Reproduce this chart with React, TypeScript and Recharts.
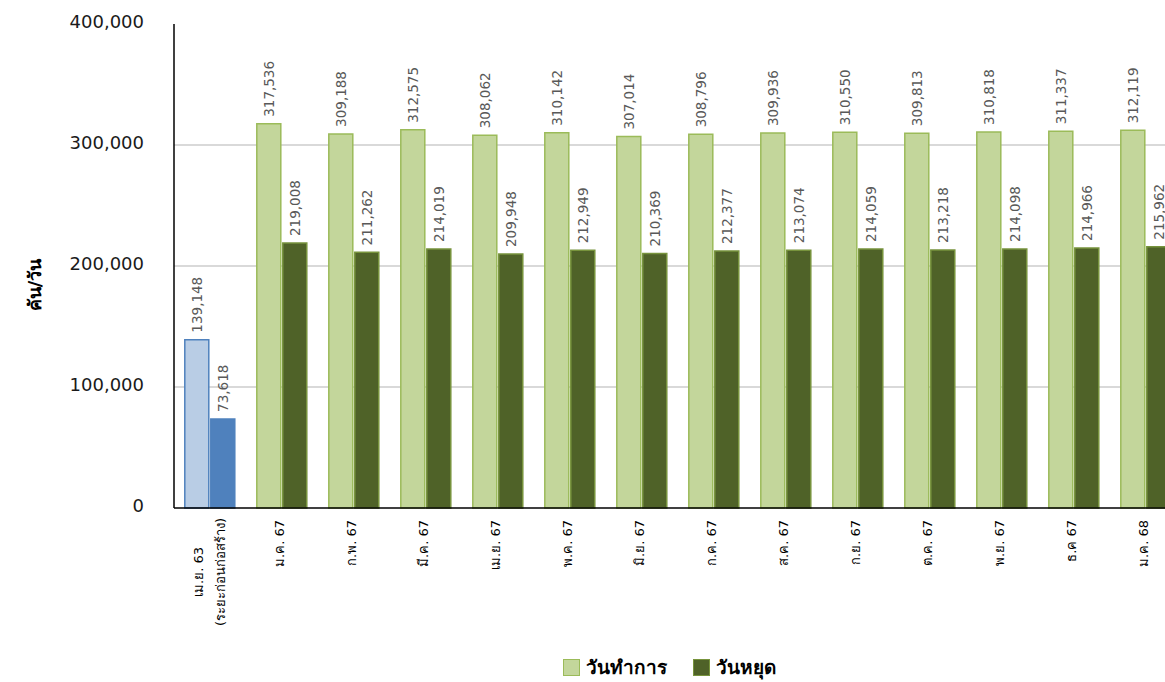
import { Bar, BarChart, CartesianGrid, Cell, LabelList, Legend, XAxis, YAxis } from "recharts";

// เดือน (แกน X)
const months = [
  "เม.ย. 63\n(ระยะก่อนก่อสร้าง)",
  "ม.ค. 67",
  "ก.พ. 67",
  "มี.ค. 67",
  "เม.ย. 67",
  "พ.ค. 67",
  "มิ.ย. 67",
  "ก.ค. 67",
  "ส.ค. 67",
  "ก.ย. 67",
  "ต.ค. 67",
  "พ.ย. 67",
  "ธ.ค 67",
  "ม.ค. 68",
];

// คัน/วัน
const workdays = [139148, 317536, 309188, 312575, 308062, 310142, 307014, 308796, 309936, 310550, 309813, 310818, 311337, 312119];
const holidays = [73618, 219008, 211262, 214019, 209948, 212949, 210369, 212377, 213074, 214059, 213218, 214098, 214966, 215962];

const yTicks = [0, 100000, 200000, 300000, 400000];

const FONT = "'DejaVu Sans', Tahoma, Verdana, sans-serif";

const data = months.map((m, i) => ({ month: m, workday: workdays[i], holiday: holidays[i] }));

const fmt = (v: number) => v.toLocaleString("en-US");

function XTick(props: any) {
  const { x, y, payload } = props;
  const lines: string[] = String(payload.value).split("\n");
  if (lines.length === 1) {
    const ty = y + 12;
    return (
      <text x={x - 3} y={ty} transform={`rotate(-90 ${x - 3} ${ty})`} textAnchor="end" dy="0.35em" fontSize={13} fill="#000" fontFamily={FONT}>
        {lines[0]}
      </text>
    );
  }
  const cy = y + 64;
  return (
    <g>
      {lines.map((l, i) => {
        const lx = x - 12 + i * 22;
        return (
          <text key={i} x={lx} y={cy} transform={`rotate(-90 ${lx} ${cy})`} textAnchor="middle" dy="0.35em" fontSize={13} fill="#000" fontFamily={FONT}>
            {l}
          </text>
        );
      })}
    </g>
  );
}

function ValueLabel(props: any) {
  const { x, y, width, value } = props;
  const cx = x + width / 2;
  const ty = y - 7;
  return (
    <text x={cx} y={ty} transform={`rotate(-90 ${cx} ${ty})`} textAnchor="start" dy="0.35em" fontSize={13.5} fill="#595959" fontFamily={FONT}>
      {fmt(value)}
    </text>
  );
}

function LegendBox() {
  const item = (fill: string, stroke: string, text: string) => (
    <div style={{ display: "flex", alignItems: "center", marginRight: 26 }}>
      <span style={{ width: 15, height: 15, background: fill, border: `1.5px solid ${stroke}`, marginRight: 6 }} />
      <span style={{ fontSize: 19, fontWeight: "bold", color: "#000", fontFamily: FONT }}>{text}</span>
    </div>
  );
  return (
    <div style={{ display: "flex" }}>
      {item("#c3d69b", "#9bbb59", "วันทำการ")}
      {item("#4f6228", "#77933c", "วันหยุด")}
    </div>
  );
}

export default function App() {
  return (
    <div style={{ position: "absolute", left: 0, top: 0, width: 1165, height: 682, overflow: "hidden" }}>
      <div style={{ paddingLeft: 8, paddingTop: 8 }}>
        <BarChart
          width={1174}
          height={674}
          data={data}
          margin={{ top: 16, right: 0, left: 0, bottom: 0 }}
          barCategoryGap="15%"
          barGap={2}
        >
          <CartesianGrid vertical={false} stroke="#b3b3b3" horizontalValues={[100000, 200000, 300000]} />
          <XAxis
            dataKey="month"
            height={174}
            interval={0}
            tick={<XTick />}
            tickLine={false}
            tickSize={0}
            tickMargin={0}
            axisLine={{ stroke: "#000", strokeWidth: 1.5 }}
          />
          <YAxis
            width={166}
            domain={[0, 400000]}
            ticks={yTicks}
            tickFormatter={fmt}
            tickLine={false}
            tickSize={0}
            tickMargin={30}
            axisLine={{ stroke: "#000", strokeWidth: 1.5 }}
            tick={{ fontSize: 18, fill: "#1a1a1a", fontFamily: FONT, dy: -2 }}
            label={{
              content: () => (
                <text x={27} y={277} transform="rotate(-90 27 277)" textAnchor="middle" dy="0.35em" fontSize={18} fontWeight="bold" fill="#000" fontFamily={FONT}>
                  คัน/วัน
                </text>
              ),
            }}
          />
          <Legend
            layout="horizontal"
            verticalAlign="middle"
            align="center"
            content={<LegendBox />}
            wrapperStyle={{ left: 555, top: 644, width: 300 }}
          />
          <Bar dataKey="workday" name="วันทำการ" fill="#c3d69b" stroke="#9bbb59" strokeWidth={1.5} isAnimationActive={false}>
            {data.map((_, i) => (
              <Cell key={i} fill={i === 0 ? "#b9cde5" : "#c3d69b"} stroke={i === 0 ? "#4f81bd" : "#9bbb59"} />
            ))}
            <LabelList dataKey="workday" content={<ValueLabel />} />
          </Bar>
          <Bar dataKey="holiday" name="วันหยุด" fill="#4f6228" stroke="#77933c" strokeWidth={1.5} isAnimationActive={false}>
            {data.map((_, i) => (
              <Cell key={i} fill={i === 0 ? "#4f81bd" : "#4f6228"} stroke={i === 0 ? "#4f81bd" : "#77933c"} />
            ))}
            <LabelList dataKey="holiday" content={<ValueLabel />} />
          </Bar>
        </BarChart>
      </div>
    </div>
  );
}
